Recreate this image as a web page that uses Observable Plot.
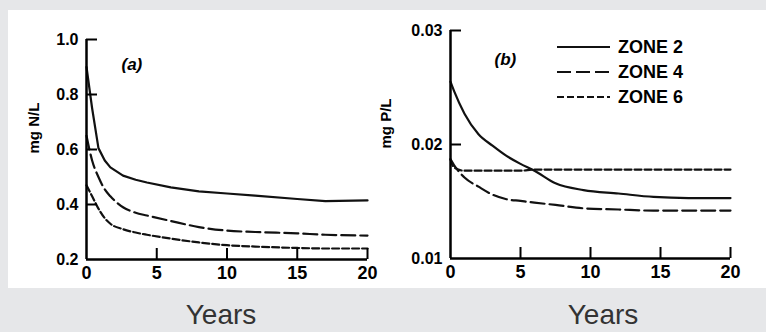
<!DOCTYPE html>
<html>
<head>
<meta charset="utf-8">
<script src="https://cdn.jsdelivr.net/npm/d3@7"></script>
<script src="https://cdn.jsdelivr.net/npm/@observablehq/plot@0.6"></script>
<style>
  html, body { margin: 0; padding: 0; }
  body { width: 766px; height: 332px; background: #e6e7e9; position: relative; overflow: hidden; font-family: "Liberation Sans", Arial, sans-serif; }
  #panel { position: absolute; left: 8px; top: 10px; width: 758px; height: 278px; background: #fff; }
  #left, #right { position: absolute; top: 0; }
  #left { left: 0; }
  #right { left: 375px; }
  .xlabel { position: absolute; top: 298px; font-size: 28px; color: #333; width: 120px; text-align: center; line-height: 34px; }
  #legend { position: absolute; left: 0; top: 0; }
  #panel svg text { font-family: "Liberation Sans", Arial, sans-serif; font-weight: bold; fill: #000; }
  #panel g[aria-label="y-axis tick label"] { font-size: 16px; }
  #panel g[aria-label="x-axis tick label"] { font-size: 18px; }
</style>
</head>
<body>
<div id="panel">
  <div id="left"></div>
  <div id="right"></div>
</div>
<div class="xlabel" style="left:161px">Years</div>
<div class="xlabel" style="left:543px">Years</div>
<svg id="legend" width="766" height="332"></svg>
<script>
// ---- Panel (a): nitrogen, mg N/L ----
const yearsA = [0, 0.4, 0.85, 1.3, 1.7, 2.6, 3.5, 4.3, 6, 8, 10, 12, 15, 17, 20];
const zone2A = [0.90, 0.75, 0.605, 0.56, 0.535, 0.505, 0.49, 0.48, 0.462, 0.448, 0.44, 0.432, 0.42, 0.412, 0.415];
const zone4A = [0.65, 0.56, 0.50, 0.455, 0.43, 0.39, 0.37, 0.36, 0.34, 0.318, 0.305, 0.30, 0.295, 0.29, 0.287];
const zone6A = [0.47, 0.43, 0.385, 0.35, 0.33, 0.31, 0.298, 0.29, 0.276, 0.262, 0.252, 0.247, 0.242, 0.24, 0.24];

// ---- Panel (b): phosphorus, mg P/L ----
const yearsB = [0, 0.25, 1, 2, 3, 4, 5, 6, 7.5, 9.5, 12, 14.5, 17, 20];
const zone2B = [0.0255, 0.0247, 0.0227, 0.0209, 0.0199, 0.0190, 0.0183, 0.0177, 0.0166, 0.0160, 0.0157, 0.0154, 0.0153, 0.0153];
const zone4B = [0.0187, 0.0182, 0.0171, 0.0163, 0.0156, 0.0152, 0.01505, 0.0149, 0.0147, 0.0144, 0.0143, 0.0142, 0.0142, 0.0142];
const zone6B = [0.0187, 0.0180, 0.0177, 0.0177, 0.0177, 0.0177, 0.0177, 0.0178, 0.0178, 0.0178, 0.0178, 0.0178, 0.0178, 0.0178];

// ---- Axes / labels ----
const xTicks = [0, 5, 10, 15, 20];
const yTicksA = [0.2, 0.4, 0.6, 0.8, 1.0];
const yTicksB = [0.01, 0.02, 0.03];
const zones = ["ZONE 2", "ZONE 4", "ZONE 6"];
const dashes = ["none", "14,5", "7,3"];

const rows = (years, vals) => years.map((x, i) => ({x, y: vals[i]}));

function panel({years, series, curves, yDomain, yTicks, yFmt, width, marginLeft, marginRight, marginTop, marginBottom, tag, tagDx, tagDy, ylabel, ylabelDx}) {
  const height = 278;
  const fw = width - marginLeft - marginRight;
  const fh = height - marginTop - marginBottom;
  const tick = 11;
  const xSpan = 20, ySpan = yDomain[1] - yDomain[0];
  const tickXLen = tick / fw * xSpan;   // tick length in data units
  const tickYLen = tick / fh * ySpan;
  const svg = Plot.plot({
    width, height, marginLeft, marginRight, marginTop, marginBottom,
    style: {background: "transparent", overflow: "visible", fontFamily: "Liberation Sans, Arial, sans-serif", color: "#000"},
    x: {domain: [0, 20], axis: null},
    y: {domain: yDomain, axis: null},
    marks: [
      ...series.map((vals, i) => Plot.line(rows(years, vals), {x: "x", y: "y", stroke: "#111", strokeWidth: 2.2, strokeDasharray: dashes[i], curve: curves[i]})),
      // inward tick marks
      Plot.ruleY(yTicks.slice(1), {y: d => d, x1: 0, x2: tickXLen, stroke: "#000", strokeWidth: 2}),
      Plot.ruleX(xTicks.slice(1), {x: d => d, y1: yDomain[0], y2: yDomain[0] + tickYLen, stroke: "#000", strokeWidth: 2}),
      // tick labels
      Plot.axisY(yTicks, {tickSize: 0, tickPadding: 8, tickFormat: d3.format(yFmt), label: null}),
      Plot.axisX(xTicks, {tickSize: 0, tickPadding: 7, label: null}),
      // axis lines
      Plot.ruleX([0], {strokeWidth: 2.5}),
      Plot.ruleY([yDomain[0]], {strokeWidth: 2.5}),
      Plot.text([tag], {frameAnchor: "top-left", dx: tagDx, dy: tagDy}),
      Plot.text([ylabel], {frameAnchor: "left", rotate: -90, dx: ylabelDx, dy: 4})
    ]
  });
  const sel = d3.select(svg).selectAll("text");
  sel.filter(function() { return this.textContent === tag; })
    .style("font-size", "17px").style("font-style", "italic");
  sel.filter(function() { return this.textContent === ylabel; })
    .style("font-size", "15px");
  return svg;
}

document.getElementById("left").append(panel({
  years: yearsA, series: [zone2A, zone4A, zone6A], curves: ["linear", "monotone-x", "monotone-x"],
  yDomain: [0.2, 1.0], yTicks: yTicksA, yFmt: ".1f",
  width: 375, marginLeft: 78, marginRight: 16, marginTop: 29, marginBottom: 29,
  tag: "(a)", tagDx: 35, tagDy: 18, ylabel: "mg N/L", ylabelDx: -52
}));

document.getElementById("right").append(panel({
  years: yearsB, series: [zone2B, zone4B, zone6B], curves: ["monotone-x", "monotone-x", "monotone-x"],
  yDomain: [0.01, 0.03], yTicks: yTicksB, yFmt: ".2f",
  width: 383, marginLeft: 67, marginRight: 36, marginTop: 20, marginBottom: 30,
  tag: "(b)", tagDx: 44, tagDy: 22, ylabel: "mg P/L", ylabelDx: -64
}));

// ---- Legend ----
const leg = d3.select("#legend");
const legRowY = [47, 72, 97];
zones.forEach((z, i) => {
  leg.append("line").attr("x1", 557).attr("x2", 610).attr("y1", legRowY[i]).attr("y2", legRowY[i])
    .attr("stroke", "#111").attr("stroke-width", 2).attr("stroke-dasharray", dashes[i]);
  leg.append("text").attr("x", 618).attr("y", legRowY[i]).attr("dy", "0.35em")
    .attr("font-family", "Liberation Sans, Arial, sans-serif").attr("font-weight", "bold")
    .attr("font-size", 18).attr("fill", "#000").text(z);
});
</script>
</body>
</html>
